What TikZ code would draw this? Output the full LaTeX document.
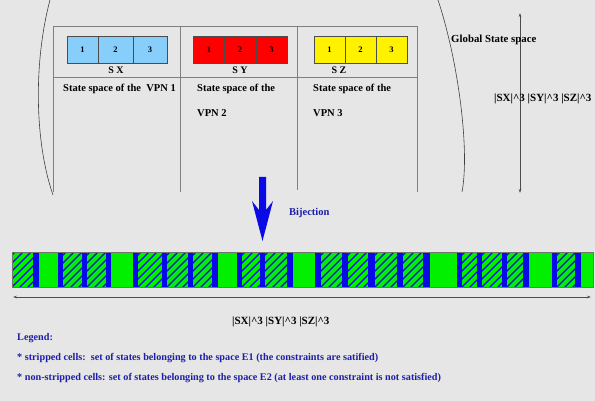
\documentclass[tikz,border=0pt]{standalone}
\usepackage{fontspec}
\setmainfont{Liberation Serif}
\usetikzlibrary{arrows.meta}
\begin{document}
\begin{tikzpicture}[x=1pt,y=-1pt,
  lbl/.style={font=\fontsize{10.5}{12}\selectfont\bfseries, inner sep=0pt, anchor=base west},
  dimlbl/.style={lbl, font=\fontsize{11}{13}\selectfont\bfseries},
  legtxt/.style={lbl, text=legendblue, font=\fontsize{10.2}{12}\selectfont\bfseries},
  bluetxt/.style={lbl, text=legendblue},
  sublbl/.style={lbl, anchor=base, font=\fontsize{10}{12}\selectfont\bfseries},
  cell/.style={draw=black!70, line width=0.5pt, minimum width=31pt, minimum height=27pt, inner sep=0pt, font=\fontsize{8.5}{10}\selectfont\bfseries},
  tabline/.style={draw=black!50, line width=0.8pt},
  arcline/.style={draw=black!75, line width=0.6pt},
  dimarrow/.style={draw=black!70, line width=0.6pt, {Stealth[length=4pt,width=2.5pt]}-{Stealth[length=4pt,width=2.5pt]}},
  hatch/.style={draw=barblue, line width=1.2pt},
]
\definecolor{bg}{HTML}{E6E6E6}
\definecolor{skyb}{HTML}{87CEFA}
\definecolor{barblue}{HTML}{0A0AE6}
\definecolor{bargreen}{HTML}{00F000}
\definecolor{legendblue}{HTML}{1E1EA8}
\fill[bg] (0,0) rectangle (595,401);
\useasboundingbox (0,0) rectangle (595,401);

% arcs of the global state space
\draw[arcline] (50,0) .. controls (34,60) and (34,140) .. (53,195);
\draw[arcline] (438,0) .. controls (458,60) and (470,150) .. (462,192);

% table
\draw[tabline] (53,192) -- (53,26) -- (417,26) -- (417,192);
\draw[tabline] (180,26) -- (180,192);
\draw[tabline] (297,26) -- (297,190);
\draw[tabline] (53,77) -- (417,77);

% cells
\node[cell, fill=skyb] (x1) at (82.5,49.5) {1};
\node[cell, fill=skyb, minimum width=35pt] (x2) at (115.5,49.5) {2};
\node[cell, fill=skyb, minimum width=34pt] (x3) at (150,49.5) {3};
\node[cell, fill=red] (y1) at (209,49.5) {1};
\node[cell, fill=red, minimum width=32pt] (y2) at (240,49.5) {2};
\node[cell, fill=red] (y3) at (271.5,49.5) {3};
\node[cell, fill=yellow] (z1) at (329.5,49.5) {1};
\node[cell, fill=yellow] (z2) at (360.5,49.5) {2};
\node[cell, fill=yellow] (z3) at (391.5,49.5) {3};

\node[sublbl] (sx) at (116,73.5) {S X};
\node[sublbl] (sy) at (240,73.5) {S Y};
\node[sublbl] (sz) at (339,73.5) {S Z};

\node[lbl] (v1) at (63,92) {State space of the\ \ VPN 1};
\node[lbl] (v2a) at (197,92) {State space of the};
\node[lbl] (v2b) at (197,117) {VPN 2};
\node[lbl] (v3a) at (313,92) {State space of the};
\node[lbl] (v3b) at (313,117) {VPN 3};

% global dimension arrow
\coordinate (gt) at (520,13);
\coordinate (gb) at (520,193);
\draw[dimarrow] (gt) -- (gb);
\node[lbl, font=\fontsize{10.8}{13}\selectfont\bfseries] (gss) at (451,43) {Global State space};
\node[dimlbl] (gdim) at (494,102) {|SX|\textasciicircum3 |SY|\textasciicircum3 |SZ|\textasciicircum3};

% bijection arrow
\fill[barblue] (259,177) -- (266,177) -- (266,210) -- (273,201) -- (262.5,241) -- (252,201) -- (259,210) -- cycle;
\coordinate (bij) at (262.5,241);
\node[bluetxt] (bijl) at (289,215) {Bijection};

% bar
\fill[bargreen] (12,252) rectangle (593,287);
\foreach \a/\b in {12/33, 63/82, 87/106, 138/162, 167/188, 193/212, 242/260, 265/287, 321/342, 348/368, 375/397, 403/423, 462/477, 482/502, 507/523, 557/575}{
  \begin{scope}
    \clip (\a,252) rectangle (\b,287);
    \foreach \k in {-41,-33,...,30}
      \draw[hatch] (\a+\k,288) -- ++(37,-37);
  \end{scope}
}
\foreach \a/\b in {33/39, 58/63, 82/87, 106/111, 133/138, 162/167, 188/193, 212/218, 237/242, 260/265, 287/293, 315/321, 342/348, 368/375, 397/403, 423/430, 457/462, 477/482, 502/507, 523/529, 552/557, 575/581}
  \fill[barblue] (\a,252) rectangle (\b,287);
\draw[black!55, line width=0.5pt] (12,252) rectangle (593,287);

% horizontal dimension arrow
\coordinate (hl) at (13,297);
\coordinate (hr) at (591,297);
\draw[dimarrow] (hl) -- (hr);
\node[dimlbl] (hdim) at (232,324) {|SX|\textasciicircum3 |SY|\textasciicircum3 |SZ|\textasciicircum3};

% legend
\node[legtxt] (lg0) at (17,340) {Legend:};
\node[legtxt] (lg1) at (17,360) {* stripped cells:\ \ set of states belonging to the space E1 (the constraints are satified)};
\node[legtxt] (lg2) at (17,380) {* non-stripped cells: set of states belonging to the space E2 (at least one constraint is not satisfied)};
\end{tikzpicture}
\end{document}
